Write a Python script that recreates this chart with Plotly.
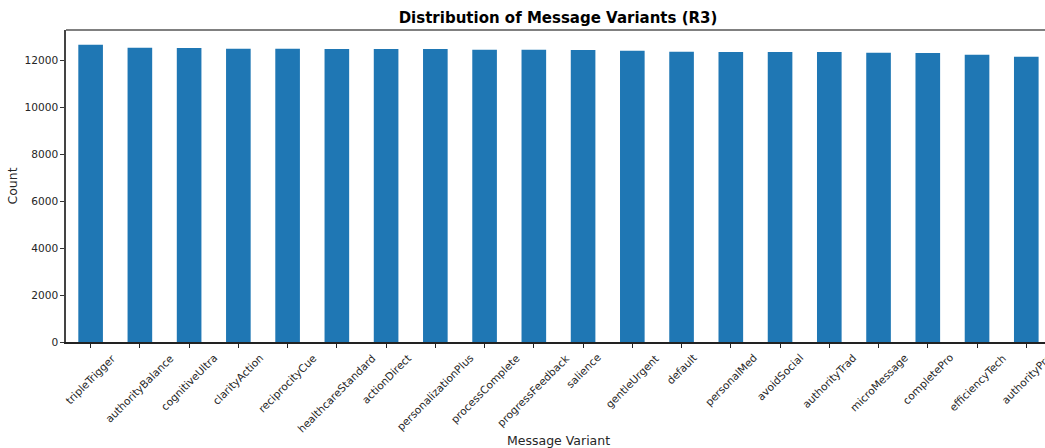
import plotly.graph_objects as go

variants = ["tripleTrigger", "authorityBalance", "cognitiveUltra", "clarityAction",
            "reciprocityCue", "healthcareStandard", "actionDirect", "personalizationPlus",
            "processComplete", "progressFeedback", "salience", "gentleUrgent", "default",
            "personalMed", "avoidSocial", "authorityTrad", "microMessage", "completePro",
            "efficiencyTech", "authorityPro"]
counts = [12650, 12525, 12520, 12485, 12480, 12478, 12475, 12470, 12440, 12438,
          12435, 12400, 12355, 12350, 12348, 12345, 12310, 12305, 12225, 12140]
y_ticks = [0, 2000, 4000, 6000, 8000, 10000, 12000]

FONT = "DejaVu Sans"
TXT = "#262626"

fig = go.Figure()
fig.add_trace(go.Bar(x=variants, y=counts, width=0.5, marker=dict(color="#1f77b4", line=dict(width=0))))

annotations = []
for v in variants:
    annotations.append(dict(x=v, y=0, xref="x", yref="paper", text=v, showarrow=False,
                            textangle=-45, xanchor="center", yanchor="top", yshift=-7,
                            font=dict(family=FONT, size=10.6, color=TXT)))
annotations.append(dict(x=0.503, y=-0.316, xref="paper", yref="paper", text="Message Variant",
                        showarrow=False, xanchor="center", yanchor="middle",
                        font=dict(family=FONT, size=12.5, color=TXT)))

fig.update_layout(
    width=1045, height=448,
    margin=dict(l=66, r=0, t=30, b=106),
    paper_bgcolor="white", plot_bgcolor="white",
    showlegend=False,
    font=dict(family=FONT, size=10, color=TXT),
    title=dict(text="<b>Distribution of Message Variants (R3)</b>", x=0.534, xref="container",
               xanchor="center", y=1 - 18 / 448, yref="container", yanchor="middle",
               font=dict(family=FONT, size=15, color="black")),
    xaxis=dict(range=[-0.5, len(variants) - 0.5 - 0.12], showticklabels=False, ticks="outside",
               ticklen=4, tickcolor="#222", tickwidth=1, showline=True, linecolor="#222",
               linewidth=1.5, showgrid=False, zeroline=False),
    yaxis=dict(range=[0, 1.05 * max(counts)], tickvals=y_ticks, tickformat="d", ticks="outside",
               ticklen=4, tickcolor="#333", tickwidth=1, showline=True, linecolor="#444",
               linewidth=1.5, showgrid=False, zeroline=False,
               tickfont=dict(family=FONT, size=10.6, color=TXT),
               title=dict(text="Count", standoff=4, font=dict(family=FONT, size=12.5, color=TXT))),
    annotations=annotations,
    shapes=[dict(type="line", xref="paper", yref="paper", x0=0, x1=1, y0=1, y1=1,
                 line=dict(color="#808080", width=2))],
)

fig.write_html("out.html", config={"displayModeBar": False},
               post_script="document.body.style.margin='0';document.body.style.overflow='hidden';")
